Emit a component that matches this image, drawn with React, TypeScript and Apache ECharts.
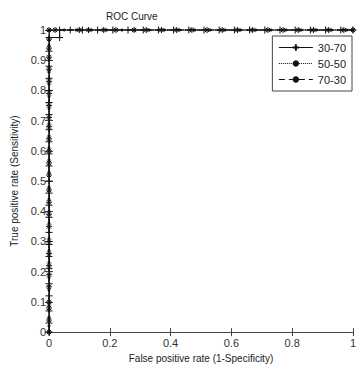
import React, { useEffect, useRef } from "react";
import * as echarts from "echarts";

const seriesNames = ["30-70", "50-50", "70-30"];

const fprA = [0, 0, 0, 0, 0, 0, 0, 0, 0, 0, 0, 0, 0, 0, 0, 0, 0, 0, 0, 0, 0, 0, 0, 0, 0.035, 0.035, 0.07, 0.11, 0.16, 0.21, 0.26, 0.31, 0.36, 0.41, 0.46, 0.51, 0.56, 0.61, 0.66, 0.71, 0.76, 0.81, 0.86, 0.91, 0.96, 1];
const tprA = [0, 0.03, 0.07, 0.12, 0.16, 0.21, 0.25, 0.29, 0.33, 0.38, 0.42, 0.46, 0.5, 0.55, 0.59, 0.63, 0.67, 0.72, 0.76, 0.8, 0.84, 0.88, 0.93, 0.975, 0.975, 1, 1, 1, 1, 1, 1, 1, 1, 1, 1, 1, 1, 1, 1, 1, 1, 1, 1, 1, 1, 1];

const fprB = [0, 0, 0, 0, 0, 0, 0, 0, 0, 0, 0, 0, 0, 0, 0, 0, 0, 0, 0, 0, 0, 0, 0, 0, 0, 0.05, 0.09, 0.14, 0.19, 0.24, 0.28, 0.33, 0.38, 0.43, 0.48, 0.53, 0.58, 0.63, 0.68, 0.73, 0.78, 0.83, 0.88, 0.93, 0.98, 1];
const tprB = [0, 0.02, 0.05, 0.09, 0.14, 0.18, 0.23, 0.27, 0.31, 0.36, 0.4, 0.44, 0.48, 0.53, 0.57, 0.61, 0.65, 0.69, 0.74, 0.78, 0.82, 0.86, 0.9, 0.95, 1, 1, 1, 1, 1, 1, 1, 1, 1, 1, 1, 1, 1, 1, 1, 1, 1, 1, 1, 1, 1, 1];

const fprC = [0, 0, 0, 0, 0, 0, 0, 0, 0, 0, 0, 0, 0, 0, 0, 0, 0, 0, 0, 0, 0, 0, 0, 0, 0, 0, 0, 0.02, 0.1, 0.13, 0.18, 0.22, 0.28, 0.32, 0.37, 0.42, 0.47, 0.52, 0.57, 0.62, 0.67, 0.72, 0.77, 0.82, 0.87, 0.92, 0.97, 1];
const tprC = [0, 0.04, 0.08, 0.1, 0.15, 0.19, 0.22, 0.26, 0.3, 0.35, 0.39, 0.43, 0.47, 0.52, 0.56, 0.6, 0.64, 0.68, 0.71, 0.75, 0.79, 0.83, 0.87, 0.91, 0.94, 0.97, 1, 1, 1, 1, 1, 1, 1, 1, 1, 1, 1, 1, 1, 1, 1, 1, 1, 1, 1, 1, 1, 1];

const xTicks = [0, 0.2, 0.4, 0.6, 0.8, 1];
const yTicks = [0, 0.1, 0.2, 0.3, 0.4, 0.5, 0.6, 0.7, 0.8, 0.9, 1];

const FONT = "'Liberation Sans', Arial, sans-serif";
const PLUS = "path://M0,5L10,5M5,0L5,10";
const STAR = "path://M5,0L5,10M0,5L10,5M1.5,1.5L8.5,8.5M8.5,1.5L1.5,8.5";

function pairs(xs: number[], ys: number[]) {
  return xs.map((x, i) => [x, ys[i]]);
}

export default function App() {
  const ref = useRef<HTMLDivElement>(null);
  useEffect(() => {
    if (!ref.current) return;
    const chart = echarts.init(ref.current, undefined, { renderer: "svg" });
    const axisLine = { show: true, lineStyle: { color: "#444", width: 1 } };
    const baseX = {
      type: "value" as const,
      min: xTicks[0],
      max: xTicks[xTicks.length - 1],
      interval: 0.2,
      splitLine: { show: false },
      axisLine,
      axisTick: { show: true, inside: true, length: 4, lineStyle: { color: "#444" } },
    };
    const baseY = {
      type: "value" as const,
      min: yTicks[0],
      max: yTicks[yTicks.length - 1],
      interval: 0.1,
      splitLine: { show: false },
      axisLine,
      axisTick: { show: true, inside: true, length: 4, lineStyle: { color: "#444" } },
    };
    chart.setOption({
      animation: false,
      backgroundColor: "#fff",
      title: {
        text: "ROC Curve",
        left: 106,
        top: 11,
        padding: 0,
        textStyle: { fontFamily: FONT, fontSize: 10, fontWeight: "normal", color: "#222" },
      },
      legend: {
        orient: "vertical",
        right: 7,
        top: 36,
        data: seriesNames,
        itemWidth: 34,
        itemHeight: 8,
        itemGap: 5,
        padding: [6, 6, 6, 6],
        borderColor: "#444",
        borderWidth: 1,
        backgroundColor: "#fff",
        lineStyle: { width: 1 },
        textStyle: { fontFamily: FONT, fontSize: 11, color: "#222" },
      },
      grid: { left: 49, right: 3, top: 30, bottom: 31 },
      xAxis: [
        {
          ...baseX,
          position: "bottom",
          name: "False positive rate (1-Specificity)",
          nameLocation: "middle",
          nameGap: 20,
          nameTextStyle: { fontFamily: FONT, fontSize: 10, color: "#222" },
          axisLabel: { fontFamily: FONT, fontSize: 11, color: "#333", margin: 5 },
        },
        { ...baseX, position: "top", axisLabel: { show: false } },
      ],
      yAxis: [
        {
          ...baseY,
          position: "left",
          name: "True positive rate (Sensitivity)",
          nameLocation: "middle",
          nameGap: 27,
          nameTextStyle: { fontFamily: FONT, fontSize: 10, color: "#222" },
          axisLabel: { fontFamily: FONT, fontSize: 11, color: "#333", margin: 3 },
        },
        { ...baseY, position: "right", axisLabel: { show: false } },
      ],
      series: [
        {
          name: seriesNames[0],
          type: "line",
          data: pairs(fprA, tprA),
          clip: false,
          symbol: PLUS,
          symbolSize: 7,
          showAllSymbol: true,
          lineStyle: { color: "#111", width: 1, type: "solid" },
          itemStyle: { color: "#111", borderColor: "#111", borderWidth: 1 },
        },
        {
          name: seriesNames[1],
          type: "line",
          data: pairs(fprB, tprB),
          clip: false,
          symbol: "circle",
          symbolSize: 3,
          showAllSymbol: true,
          lineStyle: { color: "#111", width: 1, type: "dotted" },
          itemStyle: { color: "#111", borderColor: "#111", borderWidth: 0 },
        },
        {
          name: seriesNames[2],
          type: "line",
          data: pairs(fprC, tprC),
          clip: false,
          symbol: STAR,
          symbolSize: 6,
          showAllSymbol: true,
          lineStyle: { color: "#111", width: 1, type: [6, 4] },
          itemStyle: { color: "#111", borderColor: "#111", borderWidth: 1 },
        },
      ],
    });
    return () => chart.dispose();
  }, []);
  return (
    <div
      ref={ref}
      style={{ position: "fixed", left: 0, top: 0, width: 359, height: 368, background: "#fff" }}
    />
  );
}
